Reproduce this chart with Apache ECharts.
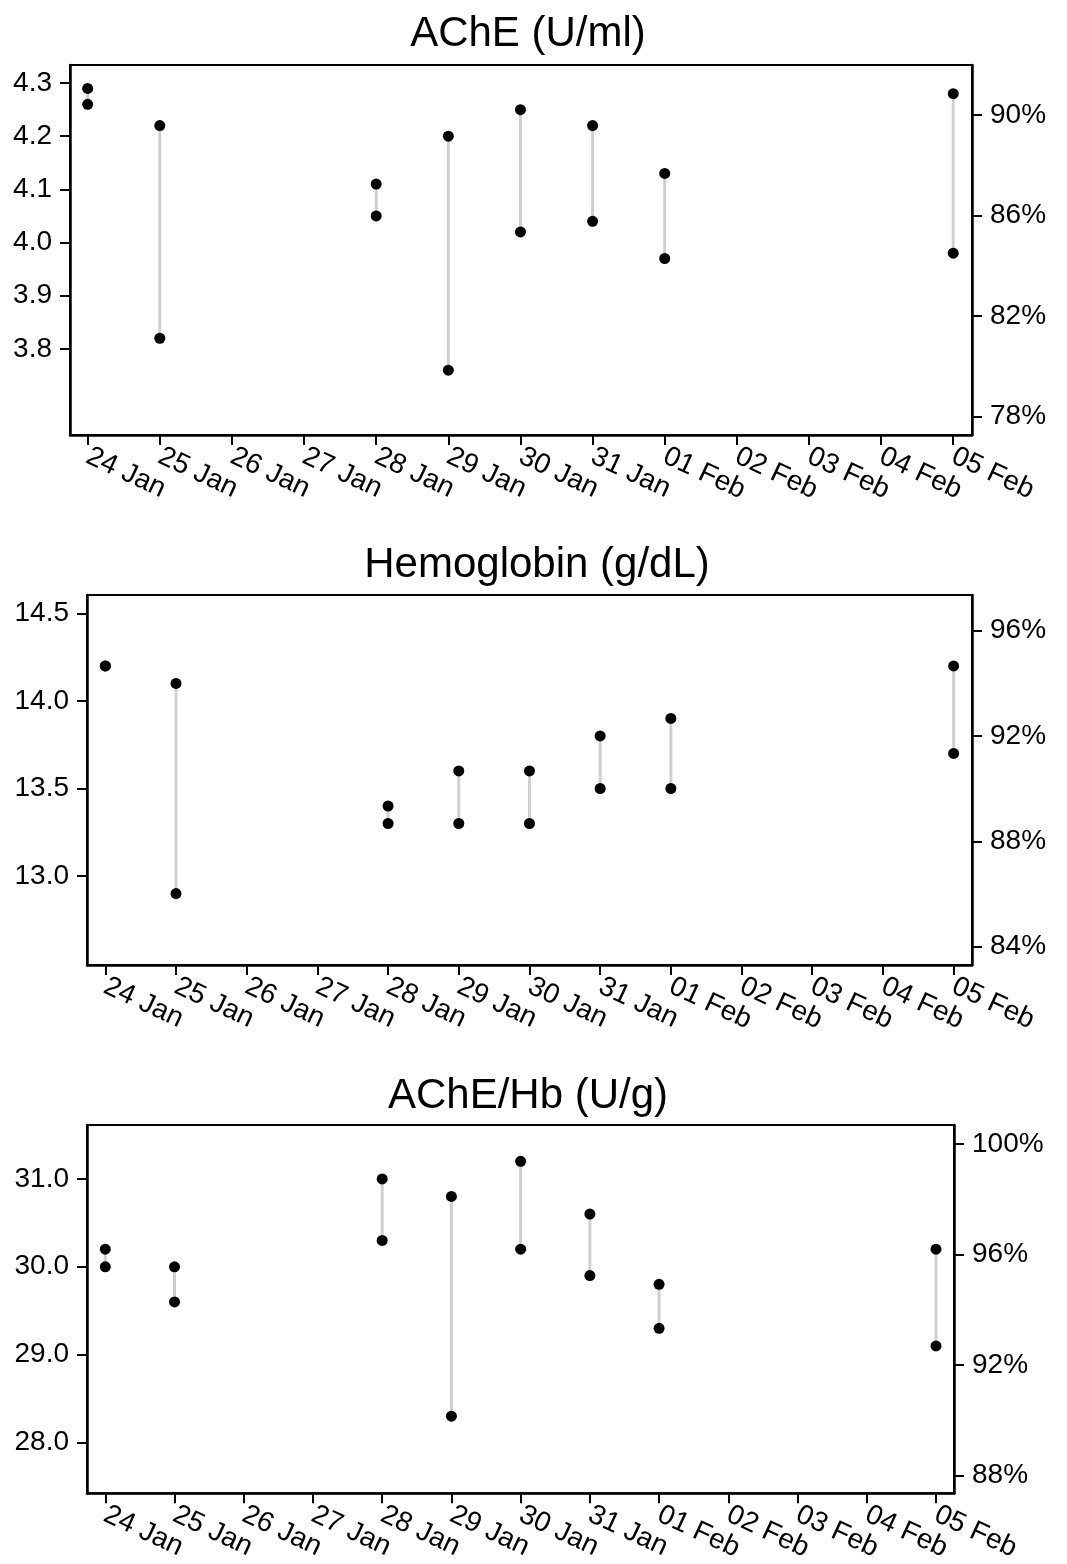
<!DOCTYPE html>
<html>
<head>
<meta charset="utf-8">
<script src="https://cdn.jsdelivr.net/npm/echarts@6/dist/echarts.min.js"></script>
<style>
html,body{margin:0;padding:0;background:#fff;}
#chart{width:1067px;height:1564px;}
</style>
</head>
<body>
<div id="chart"></div>
<script>
const dates = ['24 Jan','25 Jan','26 Jan','27 Jan','28 Jan','29 Jan','30 Jan','31 Jan','01 Feb','02 Feb','03 Feb','04 Feb','05 Feb'];

const acheHigh  = [4.29, 4.22, null, null, 4.11, 4.20, 4.25, 4.22, 4.13, null, null, null, 4.28];
const acheLow   = [4.26, 3.82, null, null, 4.05, 3.76, 4.02, 4.04, 3.97, null, null, null, 3.98];
const hbHigh    = [14.2, 14.1, null, null, 13.4, 13.6, 13.6, 13.8, 13.9, null, null, null, 14.2];
const hbLow     = [14.2, 12.9, null, null, 13.3, 13.3, 13.3, 13.5, 13.5, null, null, null, 13.7];
const ratioHigh = [30.2, 30.0, null, null, 31.0, 30.8, 31.2, 30.6, 29.8, null, null, null, 30.2];
const ratioLow  = [30.0, 29.6, null, null, 30.3, 28.3, 30.2, 29.9, 29.3, null, null, null, 29.1];

const acheTicks = [3.8, 3.9, 4.0, 4.1, 4.2, 4.3];
const achePctTicks = [78, 82, 86, 90];
const hbTicks = [13.0, 13.5, 14.0, 14.5];
const hbPctTicks = [84, 88, 92, 96];
const ratioTicks = [28, 29, 30, 31];
const ratioPctTicks = [88, 92, 96, 100];

const titles = ['AChE (U/ml)', 'Hemoglobin (g/dL)', 'AChE/Hb (U/g)'];

const FONT = '"Liberation Sans", Arial, Helvetica, sans-serif';

const panels = [
  { title: titles[0], hi: acheHigh, lo: acheLow, ticks: acheTicks, pct: achePctTicks,
    grid: {left: 70, right: 95, top: 65, height: 370},
    yMin: 3.638, yMax: 4.334, pMin: 77.27, pMax: 91.99, xMin: -0.245, xMax: 12.26,
    titleX: 528, titleY: 34 },
  { title: titles[1], hi: hbHigh, lo: hbLow, ticks: hbTicks, pct: hbPctTicks,
    grid: {left: 87, right: 95, top: 595, height: 370},
    yMin: 12.492, yMax: 14.605, pMin: 83.305, pMax: 97.356, xMin: -0.259, xMax: 12.26,
    titleX: 537, titleY: 565 },
  { title: titles[2], hi: ratioHigh, lo: ratioLow, ticks: ratioTicks, pct: ratioPctTicks,
    grid: {left: 87, right: 113, top: 1125, height: 371},
    yMin: 27.424, yMax: 31.613, pMin: 87.365, pMax: 100.68, xMin: -0.264, xMax: 12.26,
    titleX: 528, titleY: 1096 }
];

const idx = dates.map((d, i) => i);

const grids = [], xAxes = [], yAxes = [], series = [], graphics = [];
const axisLine = {show: true, onZero: false, lineStyle: {color: '#000', width: 2.5}};
const axisTickBase = {show: true, length: 10, lineStyle: {color: '#000', width: 2}};
const labelBase = {color: '#000', fontSize: 28, fontFamily: FONT};

panels.forEach((p, k) => {
  grids.push(Object.assign({show: true, borderColor: '#000', borderWidth: 2, backgroundColor: 'transparent'}, p.grid));
  xAxes.push({
    type: 'value', gridIndex: k, min: p.xMin, max: p.xMax,
    axisLine: axisLine,
    axisTick: Object.assign({}, axisTickBase, {customValues: idx}),
    axisLabel: Object.assign({}, labelBase, {customValues: idx, rotate: -25, margin: 20,
      formatter: v => dates[Math.round(v)] || ''}),
    splitLine: {show: false}
  });
  yAxes.push({
    type: 'value', gridIndex: k, position: 'left', min: p.yMin, max: p.yMax,
    axisLine: axisLine,
    axisTick: Object.assign({}, axisTickBase, {customValues: p.ticks}),
    axisLabel: Object.assign({}, labelBase, {customValues: p.ticks, margin: 18,
      formatter: v => v.toFixed(1)}),
    splitLine: {show: false}
  });
  yAxes.push({
    type: 'value', gridIndex: k, position: 'right', min: p.pMin, max: p.pMax,
    axisLine: axisLine,
    axisTick: Object.assign({}, axisTickBase, {customValues: p.pct}),
    axisLabel: Object.assign({}, labelBase, {customValues: p.pct, margin: 18,
      formatter: v => Math.round(v) + '%'}),
    splitLine: {show: false}
  });
  const segs = [];
  const pts = [];
  idx.forEach(i => {
    if (p.hi[i] == null) return;
    segs.push([i, p.lo[i]], [i, p.hi[i]], '-');
    pts.push([i, p.hi[i]]);
    pts.push([i, p.lo[i]]);
  });
  series.push({
    type: 'line', xAxisIndex: k, yAxisIndex: 2 * k, data: segs,
    showSymbol: false, symbol: 'none', connectNulls: false, silent: true,
    lineStyle: {color: '#cfcfcf', width: 3}, z: 2, animation: false
  });
  series.push({
    type: 'scatter', xAxisIndex: k, yAxisIndex: 2 * k, data: pts,
    symbol: 'circle', symbolSize: 11, itemStyle: {color: '#000', opacity: 1}, z: 3, animation: false
  });
  graphics.push({
    type: 'text', x: p.titleX, y: p.titleY,
    style: {text: p.title, fill: '#000', font: '42px ' + FONT, textAlign: 'center', textVerticalAlign: 'middle'}
  });
});

const chart = echarts.init(document.getElementById('chart'), null, {renderer: 'canvas'});
chart.setOption({
  animation: false,
  backgroundColor: '#fff',
  grid: grids,
  xAxis: xAxes,
  yAxis: yAxes,
  series: series,
  graphic: graphics
});
</script>
</body>
</html>
